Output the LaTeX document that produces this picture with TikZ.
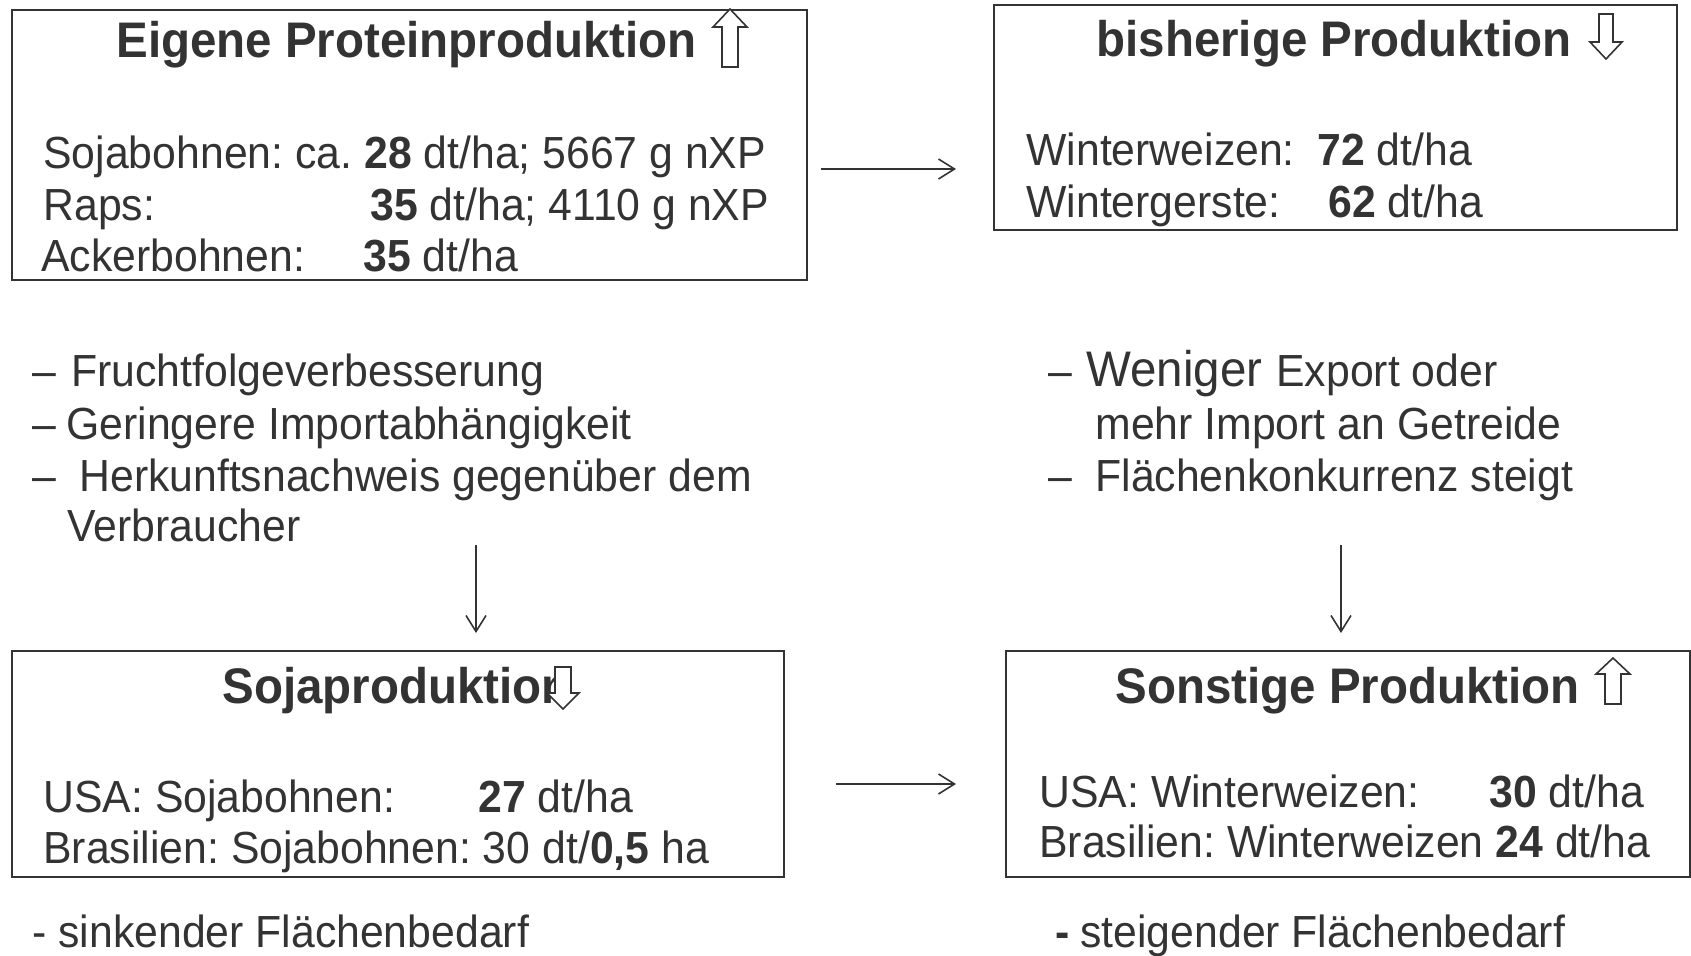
\documentclass[tikz,border=0pt]{standalone}
\usepackage{fontspec}
\setmainfont[FakeStretch=0.95]{Liberation Sans}
\usetikzlibrary{arrows.meta}
\definecolor{ink}{HTML}{333333}
\frenchspacing
\begin{document}
\begin{tikzpicture}[x=0.5pt,y=-0.5pt,
  box/.style={draw=ink, line width=1pt, inner sep=0pt, anchor=north west},
  txt/.style={inner sep=0pt, anchor=base west, text=ink, font=\fontsize{22.5pt}{26pt}\selectfont},
  big/.style={inner sep=0pt, anchor=base west, text=ink, font=\fontsize{25pt}{30pt}\selectfont},
  ttl/.style={inner sep=0pt, anchor=base west, text=ink, font=\fontsize{25pt}{30pt}\selectfont\bfseries},
  conn/.style={draw=ink, line width=0.8pt, -{Straight Barb[length=8pt,width=10pt]}},
  hollow/.style={draw=ink, line width=0.8pt, fill=white}]
\useasboundingbox (0,0) rectangle (1691,955);

% Box 1
\node[box, minimum width=397.5pt, minimum height=135pt] (b1) at (11,9) {};
\node[ttl] (t1) at (116,57) {Eigene Proteinproduktion};
\draw[hollow] (730,9) -- (747,27) -- (738,27) -- (738,67) -- (722,67) -- (722,27) -- (713,27) -- cycle;
\node[txt] (l11) at (43,168) {Sojabohnen: ca. \textbf{28} dt/ha; 5667 g nXP};
\node[txt] (l12) at (43,220) {Raps:};
\node[txt] (l12b) at (370,220) {\textbf{35} dt/ha; 4110 g nXP};
\node[txt] (l13) at (41,271) {Ackerbohnen:};
\node[txt] (l13b) at (363,271) {\textbf{35} dt/ha};

% Box 2
\node[box, minimum width=341.5pt, minimum height=112.5pt] (b2) at (993,4) {};
\node[ttl] (t2) at (1096,56) {bisherige Produktion};
\draw[hollow] (1599,14) -- (1613,14) -- (1613,42) -- (1622,42) -- (1606,59) -- (1590,42) -- (1599,42) -- cycle;
\node[txt] (l21) at (1026,165) {Winterweizen:};
\node[txt] (l21b) at (1317,165) {\textbf{72} dt/ha};
\node[txt] (l22) at (1026,217) {Wintergerste:};
\node[txt] (l22b) at (1328,217) {\textbf{62} dt/ha};

% Box 3
\node[box, minimum width=386pt, minimum height=113pt] (b3) at (11,650) {};
\node[ttl] (t3) at (222,703) {Sojaproduktion};
\draw[hollow] (555,667) -- (571,667) -- (571,693) -- (579,693) -- (563,709) -- (547,693) -- (555,693) -- cycle;
\node[txt] (l31) at (43,812) {USA: Sojabohnen:};
\node[txt] (l31b) at (478,812) {\textbf{27} dt/ha};
\node[txt] (l32) at (43,863) {Brasilien: Sojabohnen: 30 dt/\textbf{0,5} ha};

% Box 4
\node[box, minimum width=342pt, minimum height=113pt] (b4) at (1005,650) {};
\node[ttl] (t4) at (1115,703) {Sonstige Produktion};
\draw[hollow] (1613,658) -- (1630,674) -- (1621,674) -- (1621,704) -- (1605,704) -- (1605,674) -- (1596,674) -- cycle;
\node[txt] (l41) at (1039,807) {USA: Winterweizen:};
\node[txt] (l41b) at (1489,807) {\textbf{30} dt/ha};
\node[txt] (l42) at (1039,857) {Brasilien: Winterweizen \textbf{24} dt/ha};

% Middle left
\node[txt] (d1) at (32,386) {–};
\node[txt] (m1) at (71,386) {Fruchtfolgeverbesserung};
\node[txt] (d2) at (32,439) {–};
\node[txt] (m2) at (66,439) {Geringere Importabhängigkeit};
\node[txt] (d3) at (32,491) {–};
\node[txt] (m3) at (79,491) {Herkunftsnachweis gegenüber dem};
\node[txt] (m4) at (67,541) {Verbraucher};

% Middle right
\node[txt] (d4) at (1048,386) {–};
\node[big] (r1) at (1086,386) {Weniger};
\node[txt] (r1b) at (1276,386) {Export oder};
\node[txt] (r2) at (1095,439) {mehr Import an Getreide};
\node[txt] (d5) at (1048,491) {–};
\node[txt] (r3) at (1095,491) {Flächenkonkurrenz steigt};

% Bottom
\node[txt] (s1) at (32,947) {- sinkender Flächenbedarf};
\node[txt] (d6) at (1055,947) {\textbf{-}};
\node[txt] (s2) at (1080,947) {steigender Flächenbedarf};

% Connectors
\coordinate (h1s) at (821,169);
\coordinate (h1e) at (956,169);
\coordinate (h2s) at (836,784);
\coordinate (h2e) at (956,784);
\coordinate (v1s) at (476,545);
\coordinate (v1e) at (476,633);
\coordinate (v2s) at (1341,545);
\coordinate (v2e) at (1341,633);
\draw[conn] (h1s) -- (h1e);
\draw[conn] (h2s) -- (h2e);
\draw[conn] (v1s) -- (v1e);
\draw[conn] (v2s) -- (v2e);
\end{tikzpicture}
\end{document}
